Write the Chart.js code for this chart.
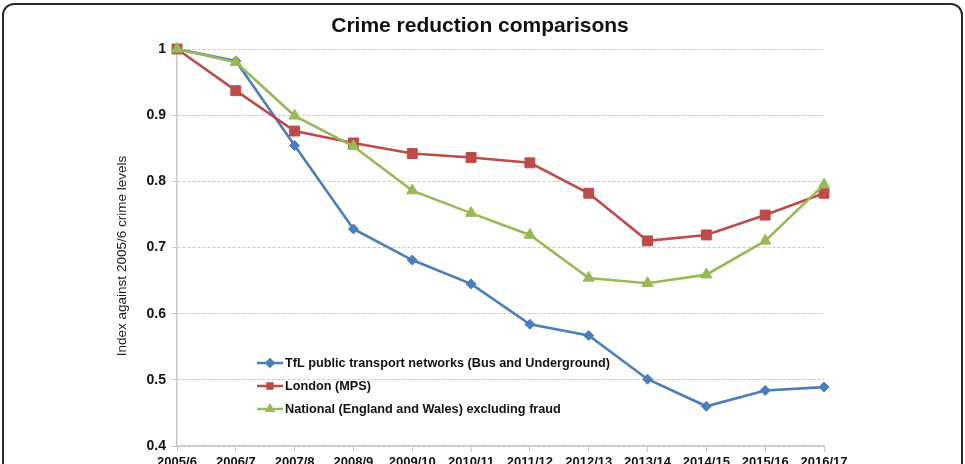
<!DOCTYPE html>
<html>
<head>
<meta charset="utf-8">
<script src="https://cdn.jsdelivr.net/npm/chart.js@4.4.1/dist/chart.umd.min.js"></script>
<style>
  html, body { margin: 0; padding: 0; background: #fff; overflow: hidden; }
  #wrap { position: relative; width: 965px; height: 464px; overflow: hidden; }
  #chart { position: absolute; left: 0; top: 0; }
  #frame {
    position: absolute; left: 2px; top: 3px; width: 957px; height: 600px;
    border: 2px solid #2b2b2b; border-radius: 12px; pointer-events: none;
  }
</style>
</head>
<body>
<div id="wrap">
  <canvas id="chart" width="965" height="490"></canvas>
  <div id="frame"></div>
</div>
<script>
const years = ['2005/6', '2006/7', '2007/8', '2008/9', '2009/10', '2010/11',
  '2011/12', '2012/13', '2013/14', '2014/15', '2015/16', '2016/17'];
const tfl = [1.0, 0.982, 0.854, 0.728, 0.681, 0.645, 0.584, 0.567, 0.501, 0.460, 0.484, 0.489];
const london = [1.0, 0.937, 0.876, 0.858, 0.842, 0.836, 0.828, 0.782, 0.710, 0.719, 0.749, 0.782];
const national = [1.0, 0.980, 0.899, 0.853, 0.786, 0.752, 0.719, 0.654, 0.646, 0.659, 0.710, 0.795];
const titleText = 'Crime reduction comparisons';
const yTitle = 'Index against 2005/6 crime levels';

const FONT = 'Liberation Sans, Arial, sans-serif';

// title, y title and the legend inside the plot, placed like the original
const extras = {
  id: 'extras',
  afterDatasetsDraw(chart) {
    const ctx = chart.ctx;
    ctx.save();
    ctx.fillStyle = '#111';
    ctx.textAlign = 'center';
    ctx.textBaseline = 'middle';
    ctx.font = 'bold 21px ' + FONT;
    ctx.fillText(titleText, 480, 26);

    ctx.save();
    ctx.translate(122, 256);
    ctx.rotate(-Math.PI / 2);
    ctx.fillStyle = '#1a1a1a';
    ctx.font = '13.5px ' + FONT;
    ctx.fillText(yTitle, 0, 0);
    ctx.restore();

    const x0 = 257, y0 = 363, rowH = 23;
    chart.data.datasets.forEach((ds, i) => {
      const y = y0 + i * rowH;
      ctx.strokeStyle = ds.borderColor;
      ctx.lineWidth = 2.5;
      ctx.beginPath();
      ctx.moveTo(x0, y);
      ctx.lineTo(x0 + 26, y);
      ctx.stroke();
      Chart.helpers.drawPoint(ctx, {
        pointStyle: ds.pointStyle, radius: 3.5, rotation: 0, borderWidth: 1
      }, x0 + 13, y);
      ctx.fillStyle = ds.borderColor;
      ctx.fill();
      ctx.fillStyle = '#111';
      ctx.font = 'bold 12.7px ' + FONT;
      ctx.textAlign = 'left';
      ctx.fillText(ds.label, x0 + 28, y);
    });
    ctx.restore();
  }
};

new Chart(document.getElementById('chart'), {
  type: 'line',
  data: {
    labels: years,
    datasets: [{
      label: 'TfL public transport networks (Bus and Underground)',
      data: tfl,
      borderColor: '#4a7ebb',
      backgroundColor: '#4a7ebb',
      borderWidth: 2.6,
      pointStyle: 'rectRot',
      pointRadius: 5,
      pointBorderWidth: 1,
      clip: false,
      order: 2
    }, {
      label: 'London (MPS)',
      data: london,
      borderColor: '#be4b48',
      backgroundColor: '#be4b48',
      borderWidth: 2.6,
      pointStyle: 'rect',
      pointRadius: 7,
      pointBorderWidth: 1,
      clip: false,
      order: 1
    }, {
      label: 'National (England and Wales) excluding fraud',
      data: national,
      borderColor: '#98b954',
      backgroundColor: '#98b954',
      borderWidth: 2.6,
      pointStyle: 'triangle',
      pointRadius: 6.5,
      pointBorderWidth: 1,
      clip: false,
      order: 0
    }]
  },
  options: {
    responsive: false,
    animation: false,
    layout: { padding: { left: 110, right: 141, top: 49, bottom: 14 } },
    plugins: {
      legend: { display: false },
      tooltip: { enabled: false },
      title: { display: false }
    },
    scales: {
      x: {
        offset: false,
        afterFit: function(scale) { scale.height = 30; },
        grid: { drawOnChartArea: false, drawTicks: true, tickLength: 6, color: '#c8c8c8' },
        border: { color: '#c8c8c8', width: 1.5 },
        ticks: {
          autoSkip: false, maxRotation: 0, padding: 3,
          color: '#111', font: { family: FONT, size: 13, weight: 'bold' }
        }
      },
      y: {
        min: 0.4,
        max: 1,
        afterFit: function(scale) { scale.width = 67; },
        grid: { color: '#c8c8c8', tickLength: 5 },
        border: { color: '#c8c8c8', width: 1.5, dash: [3, 2] },
        ticks: {
          stepSize: 0.1, padding: 6,
          color: '#111', font: { family: FONT, size: 14, weight: 'bold' },
          callback: function(v) { return Number(v.toFixed(1)).toString(); }
        }
      }
    }
  },
  plugins: [extras]
});
</script>
</body>
</html>
